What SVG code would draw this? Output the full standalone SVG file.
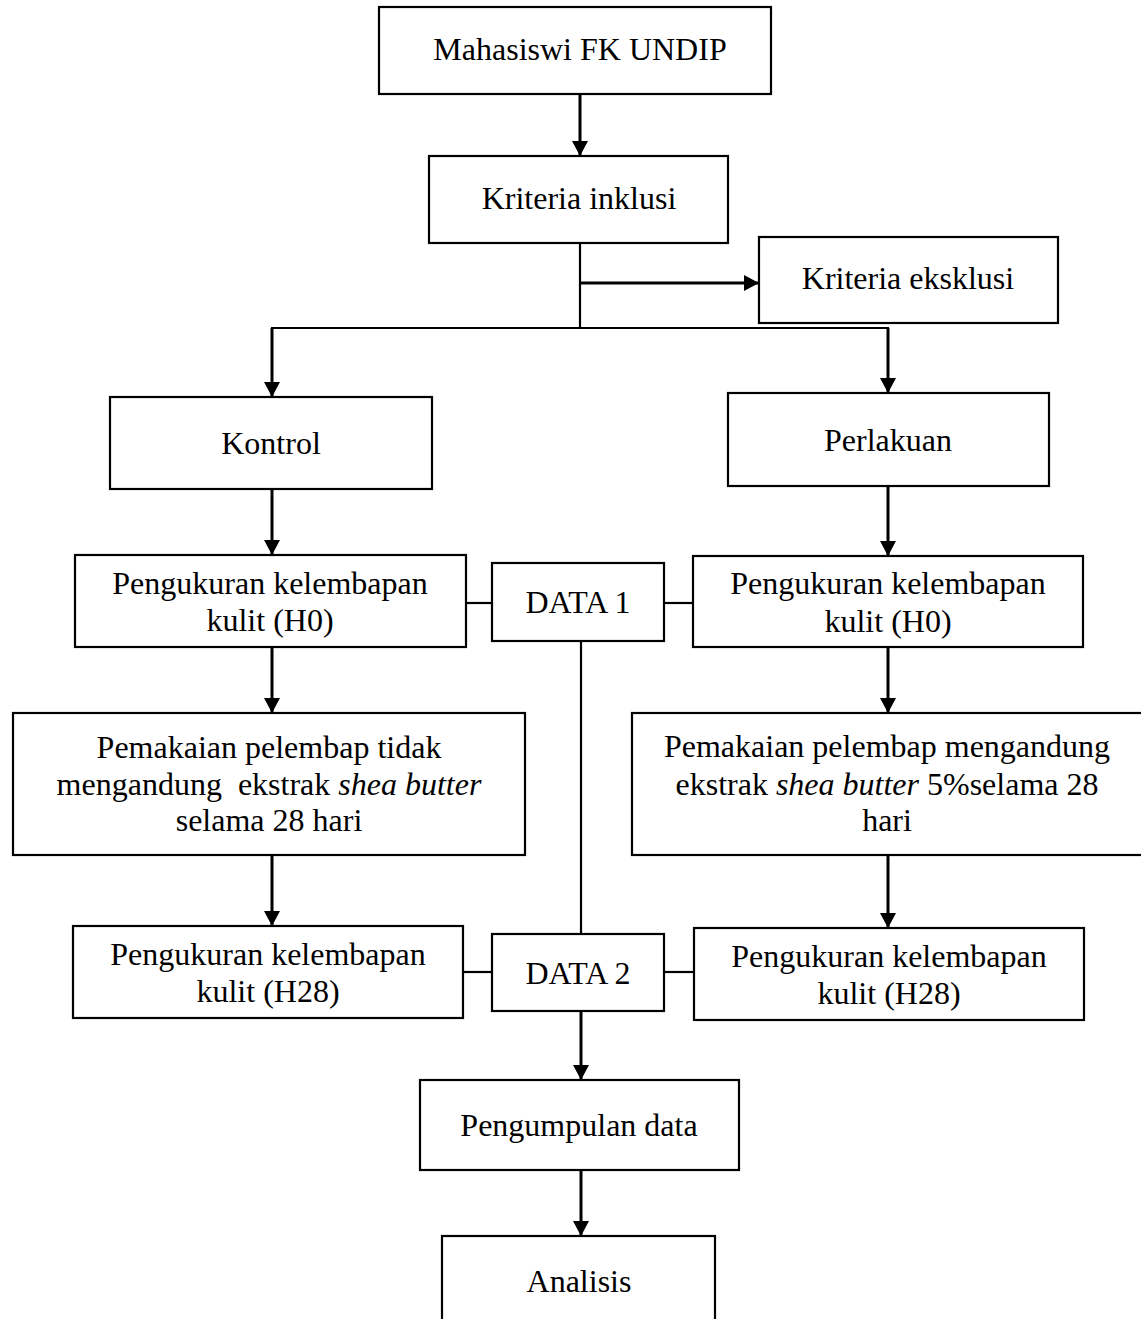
<svg xmlns="http://www.w3.org/2000/svg" width="1141" height="1319" viewBox="0 0 1141 1319">
<defs>
<marker id="ah" markerUnits="userSpaceOnUse" markerWidth="17" markerHeight="17" refX="15" refY="8" orient="auto">
<path d="M0,0 L15,8 L0,16 Z" fill="#000"/>
</marker>
<style>
.box{fill:#fff;stroke:#000;stroke-width:2.2}
.t{font-family:"Liberation Serif","Times New Roman",serif;font-size:32px;fill:#000;text-anchor:middle}
.i{font-style:italic}
.ln{fill:none;stroke:#000;stroke-width:2.2}
.ar{fill:none;stroke:#000;stroke-width:3;marker-end:url(#ah)}
</style>
</defs>
<rect width="1141" height="1319" fill="#fff"/>
<g id="connectors">
<line class="ar" x1="580" y1="94" x2="580" y2="156"/>
<line class="ln" x1="580" y1="243" x2="580" y2="328"/>
<line class="ar" x1="580" y1="283" x2="759" y2="283"/>
<line class="ln" x1="271" y1="328" x2="889" y2="328"/>
<line class="ar" x1="272" y1="328" x2="272" y2="397"/>
<line class="ar" x1="888" y1="328" x2="888" y2="393"/>
<line class="ar" x1="272" y1="489" x2="272" y2="555"/>
<line class="ar" x1="888" y1="486" x2="888" y2="556"/>
<line class="ln" x1="466" y1="603" x2="492" y2="603"/>
<line class="ln" x1="664" y1="603" x2="693" y2="603"/>
<line class="ln" x1="581" y1="641" x2="581" y2="934"/>
<line class="ar" x1="272" y1="647" x2="272" y2="713"/>
<line class="ar" x1="888" y1="647" x2="888" y2="713"/>
<line class="ar" x1="272" y1="855" x2="272" y2="926"/>
<line class="ar" x1="888" y1="855" x2="888" y2="928"/>
<line class="ln" x1="463" y1="972" x2="492" y2="972"/>
<line class="ln" x1="664" y1="972" x2="694" y2="972"/>
<line class="ar" x1="581" y1="1011" x2="581" y2="1080"/>
<line class="ar" x1="581" y1="1170" x2="581" y2="1236"/>
</g>
<g id="mahasiswi">
<rect class="box" x="379" y="7" width="392" height="87"/>
<text class="t" x="580" y="60">Mahasiswi FK UNDIP</text>
</g>
<g id="inklusi">
<rect class="box" x="429" y="156" width="299" height="87"/>
<text class="t" x="579" y="209">Kriteria inklusi</text>
</g>
<g id="eksklusi">
<rect class="box" x="759" y="237" width="299" height="86"/>
<text class="t" x="908" y="289">Kriteria eksklusi</text>
</g>
<g id="kontrol">
<rect class="box" x="110" y="397" width="322" height="92"/>
<text class="t" x="271" y="454">Kontrol</text>
</g>
<g id="perlakuan">
<rect class="box" x="728" y="393" width="321" height="93"/>
<text class="t" x="888" y="451">Perlakuan</text>
</g>
<g id="h0-kontrol">
<rect class="box" x="75" y="555" width="391" height="92"/>
<text class="t" x="270" y="594">Pengukuran kelembapan</text>
<text class="t" x="270" y="631">kulit (H0)</text>
</g>
<g id="data1">
<rect class="box" x="492" y="563" width="172" height="78"/>
<text class="t" x="578" y="613">DATA 1</text>
</g>
<g id="h0-perlakuan">
<rect class="box" x="693" y="556" width="390" height="91"/>
<text class="t" x="888" y="594">Pengukuran kelembapan</text>
<text class="t" x="888" y="632">kulit (H0)</text>
</g>
<g id="pemakaian-kontrol">
<rect class="box" x="13" y="713" width="512" height="142"/>
<text class="t" x="269" y="758">Pemakaian pelembap tidak</text>
<text class="t" x="269" y="795">mengandung&#160; ekstrak <tspan class="i">shea butter</tspan></text>
<text class="t" x="269" y="831">selama 28 hari</text>
</g>
<g id="pemakaian-perlakuan">
<rect class="box" x="632" y="713" width="520" height="142"/>
<text class="t" x="887" y="757">Pemakaian pelembap mengandung</text>
<text class="t" x="887" y="795">ekstrak <tspan class="i">shea butter</tspan> 5%selama 28</text>
<text class="t" x="887" y="831">hari</text>
</g>
<g id="h28-kontrol">
<rect class="box" x="73" y="926" width="390" height="92"/>
<text class="t" x="268" y="965">Pengukuran kelembapan</text>
<text class="t" x="268" y="1002">kulit (H28)</text>
</g>
<g id="data2">
<rect class="box" x="492" y="934" width="172" height="77"/>
<text class="t" x="578" y="984">DATA 2</text>
</g>
<g id="h28-perlakuan">
<rect class="box" x="694" y="928" width="390" height="92"/>
<text class="t" x="889" y="967">Pengukuran kelembapan</text>
<text class="t" x="889" y="1004">kulit (H28)</text>
</g>
<g id="pengumpulan">
<rect class="box" x="420" y="1080" width="319" height="90"/>
<text class="t" x="579" y="1136">Pengumpulan data</text>
</g>
<g id="analisis">
<rect class="box" x="442" y="1236" width="273" height="100"/>
<text class="t" x="579" y="1292">Analisis</text>
</g>
</svg>
